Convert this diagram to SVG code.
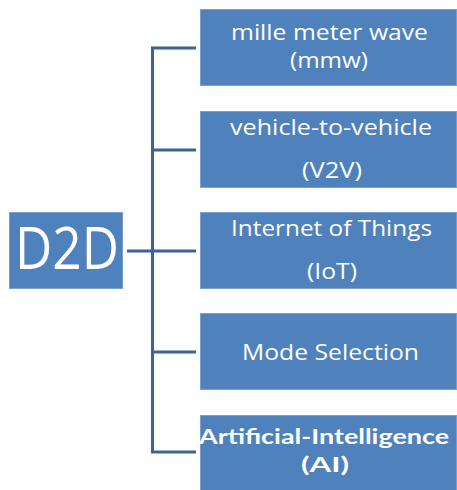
<svg xmlns="http://www.w3.org/2000/svg" width="457" height="490" viewBox="0 0 457 490">
  <style>
    .box { fill: #4f81bd; stroke: #7a9fcf; stroke-width: 1; }
    .lbl { font-family: "Open Sans", "Liberation Sans", sans-serif; font-size: 22px; fill: #ffffff; text-anchor: middle; }
    .bold { font-family: Lato, "Open Sans", sans-serif; font-weight: bold; font-size: 21px; }
    .big { font-size: 59px; }
    .wire { fill: none; stroke: #3d6394; stroke-width: 3; }
  </style>
  <rect width="457" height="490" fill="#ffffff"/>

  <!-- tree connectors -->
  <g id="connectors">
    <path class="wire" d="M196 48 H152.5 V452 H196"/>
    <path class="wire" d="M152.5 150 H196"/>
    <path class="wire" d="M127 251 H196"/>
    <path class="wire" d="M152.5 352 H196"/>
  </g>

  <!-- root -->
  <g id="d2d">
    <rect class="box" x="9.5" y="212.5" width="113" height="76"/>
    <text class="lbl big" x="67" y="269" textLength="104" lengthAdjust="spacingAndGlyphs">D2D</text>
  </g>

  <!-- branches -->
  <g id="mmw">
    <rect class="box" x="200.5" y="9.5" width="256" height="76"/>
    <text class="lbl" x="329.5" y="40" textLength="197" lengthAdjust="spacingAndGlyphs">mille meter wave</text>
    <text class="lbl" x="329" y="68" textLength="78" lengthAdjust="spacingAndGlyphs">(mmw)</text>
  </g>

  <g id="v2v">
    <rect class="box" x="200.5" y="111.5" width="256" height="76"/>
    <text class="lbl" x="331" y="135" textLength="202" lengthAdjust="spacingAndGlyphs">vehicle-to-vehicle</text>
    <text class="lbl" x="332" y="178" textLength="60" lengthAdjust="spacingAndGlyphs">(V2V)</text>
  </g>

  <g id="iot">
    <rect class="box" x="200.5" y="212.5" width="256" height="76"/>
    <text class="lbl" x="331.5" y="236" textLength="201" lengthAdjust="spacingAndGlyphs">Internet of Things</text>
    <text class="lbl" x="332" y="279" textLength="50" lengthAdjust="spacingAndGlyphs">(IoT)</text>
  </g>

  <g id="mode-selection">
    <rect class="box" x="200.5" y="313.5" width="256" height="76"/>
    <text class="lbl" x="330.5" y="360" textLength="177" lengthAdjust="spacingAndGlyphs">Mode Selection</text>
  </g>

  <g id="ai">
    <rect class="box" x="200.5" y="415.5" width="256" height="76"/>
    <text class="lbl bold" x="324" y="444" textLength="250" lengthAdjust="spacingAndGlyphs">Artificial-Intelligence</text>
    <text class="lbl bold" x="325" y="472" textLength="48" lengthAdjust="spacingAndGlyphs">(AI)</text>
  </g>
</svg>
